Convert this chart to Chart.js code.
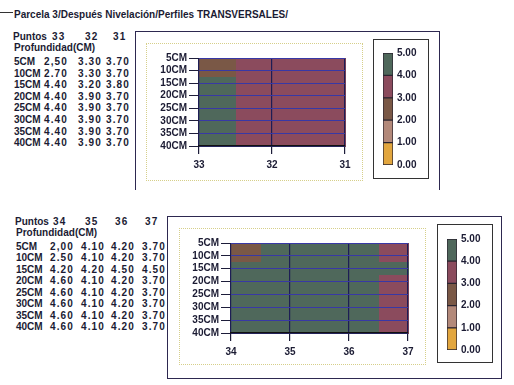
<!DOCTYPE html>
<html>
<head>
<meta charset="utf-8">
<script src="https://cdn.jsdelivr.net/npm/chart.js@4.4.1/dist/chart.umd.min.js"></script>
<style>
  body { margin: 0; width: 514px; height: 385px; position: relative; overflow: hidden; background: #fff;
         font-family: "Liberation Sans", Arial, sans-serif; font-weight: bold; color: #1b1b33; }
  .t { position: absolute; font-size: 10px; line-height: 10px; white-space: nowrap; }
  .n { letter-spacing: 1.1px; }
  .box { position: absolute; box-sizing: border-box; }
  canvas { position: absolute; }
</style>
</head>
<body>
<div class="box" style="left:0;top:12px;width:13px;height:0;border-top:1.5px solid #333"></div>
<div class="t" style="left:14px;top:10px;font-size:10px">Parcela 3/Después Nivelación/Perfiles TRANSVERSALES/</div>

<div class="box" style="left:135px;top:31px;width:305px;height:159px;border:1.5px solid #2d2850;border-bottom:none"></div>
<div class="box" style="left:146px;top:43px;width:217px;height:138px;border:1px dotted #d6cf8a"></div>
<div class="box" style="left:373px;top:39px;width:56px;height:140px;border:1px solid #333"></div>

<div class="box" style="left:167px;top:216px;width:335px;height:163px;border:1.5px solid #2d2850"></div>
<div class="box" style="left:179px;top:228px;width:247px;height:137px;border:1px dotted #d6cf8a"></div>
<div class="box" style="left:437px;top:224px;width:56px;height:139px;border:1px solid #333"></div>

<div id="tables"></div>

<canvas id="heatTop" width="217" height="138" style="left:146px;top:43px"></canvas>
<canvas id="legendTop" width="54" height="138" style="left:374px;top:40px"></canvas>
<canvas id="heatBot" width="247" height="137" style="left:179px;top:228px"></canvas>
<canvas id="legendBot" width="54" height="137" style="left:438px;top:225px"></canvas>

<script>
// depths (rows) and points (columns), values as printed in the tables
const depths = [5, 10, 15, 20, 25, 30, 35, 40];

const topPoints = [33, 32, 31];
const top33 = ['2,50', '2.70', '4.40', '4.40', '4.40', '4.40', '4.40', '4.40'];
const top32 = ['3.30', '3.30', '3.20', '3.90', '3.90', '3.90', '3.90', '3.90'];
const top31 = ['3.70', '3.70', '3.80', '3.70', '3.70', '3.70', '3.70', '3.70'];

const botPoints = [34, 35, 36, 37];
const bot34 = ['2,00', '2.50', '4.20', '4.60', '4.60', '4.60', '4.60', '4.60'];
const bot35 = ['4.10', '4.10', '4.20', '4.10', '4.10', '4.10', '4.10', '4.10'];
const bot36 = ['4.20', '4.20', '4.50', '4.20', '4.20', '4.20', '4.20', '4.20'];
const bot37 = ['3.70', '3.70', '4.50', '3.70', '3.70', '3.70', '3.70', '3.70'];

const bandLimits = [0, 1, 2, 3, 4, 5];
const bandColors = ['#e2a63e', '#b3897a', '#7a5846', '#8b4b5d', '#4f685b'];

const ink = '#1b1b33';
const tickFont = { family: '"Liberation Sans", Arial, sans-serif', size: 10, weight: 'bold' };

const num = s => parseFloat(s.replace(',', '.'));

function bandColor(v) {
  for (let i = 0; i < bandColors.length; i++) {
    if (v < bandLimits[i + 1]) return bandColors[i];
  }
  return bandColors[bandColors.length - 1];
}

// printed tables
function addText(x, y, txt, cls) {
  const d = document.createElement('div');
  d.className = 't ' + (cls || '');
  d.style.left = x + 'px';
  d.style.top = y + 'px';
  d.textContent = txt;
  document.getElementById('tables').appendChild(d);
}

function printTable(points, cols, x0, headY, headXs, rowY, rowStep, valXs) {
  addText(x0, headY, 'Puntos');
  points.forEach((p, i) => addText(headXs[i], headY, String(p), 'n'));
  addText(x0 + 1, headY + 11, 'Profundidad(CM)');
  depths.forEach((d, j) => {
    const y = rowY + j * rowStep;
    addText(x0 + 1, y, d + 'CM');
    cols.forEach((c, i) => addText(valXs[i], y, c[j], 'n'));
  });
}

printTable(topPoints, [top33, top32, top31], 13, 32, [52, 85, 113], 57, 11.6, [44, 78, 106]);
printTable(botPoints, [bot34, bot35, bot36, bot37], 15, 217, [53, 85, 115, 145], 242, 11.45, [50, 81, 111, 142]);

// cells: each reading fills the area up to halfway to its neighbours
const cellPlugin = {
  id: 'cells',
  beforeDraw(chart, args, opts) {
    const { ctx, scales: { x, y } } = chart;
    const pts = chart.data.datasets[0].data;
    const xs = opts.points, ys = depths;
    ctx.save();
    pts.forEach(p => {
      const i = xs.indexOf(p.x), j = ys.indexOf(p.y);
      const x0 = i > 0 ? (xs[i - 1] + xs[i]) / 2 : xs[i];
      const x1 = i < xs.length - 1 ? (xs[i + 1] + xs[i]) / 2 : xs[i];
      const y0 = j > 0 ? (ys[j - 1] + ys[j]) / 2 : ys[j];
      const y1 = j < ys.length - 1 ? (ys[j + 1] + ys[j]) / 2 : ys[j];
      const px0 = Math.round(x.getPixelForValue(x0)), px1 = Math.round(x.getPixelForValue(x1));
      const py0 = Math.round(y.getPixelForValue(y0)), py1 = Math.round(y.getPixelForValue(y1));
      ctx.fillStyle = bandColor(p.v);
      ctx.fillRect(Math.min(px0, px1), Math.min(py0, py1), Math.abs(px1 - px0) + 1, Math.abs(py1 - py0) + 1);
    });
    ctx.restore();
  }
};

function heatmap(id, points, cols, yWidth, xHeight) {
  const values = cols.map(c => c.map(num));
  const data = [];
  points.forEach((p, i) => depths.forEach((d, j) => data.push({ x: p, y: d, v: values[i][j] })));
  new Chart(document.getElementById(id), {
    type: 'scatter',
    data: { datasets: [{ data: data, pointRadius: 0 }] },
    options: {
      responsive: false,
      animation: false,
      events: [],
      layout: { padding: { top: 15, right: 18 } },
      plugins: { legend: { display: false }, tooltip: { enabled: false }, cells: { points: points } },
      scales: {
        x: {
          type: 'linear',
          min: Math.min(...points), max: Math.max(...points),
          reverse: points[0] > points[1],
          afterBuildTicks: s => { s.ticks = points.map(v => ({ value: v })); },
          afterFit: s => { s.height = xHeight; },
          grid: { color: '#1d1d55', lineWidth: 1.2, tickLength: 8, tickColor: '#1d1d3a' },
          border: { color: '#111', width: 1.5 },
          ticks: { font: tickFont, color: ink, padding: 5, autoSkip: false }
        },
        y: {
          type: 'linear',
          min: depths[0], max: depths[depths.length - 1],
          reverse: true,
          afterBuildTicks: s => { s.ticks = depths.map(v => ({ value: v })); },
          afterFit: s => { s.width = yWidth; },
          grid: { color: '#3838a6', lineWidth: 1, tickLength: 10, tickColor: '#1d1d3a' },
          border: { display: false },
          ticks: { font: tickFont, color: ink, padding: 2, autoSkip: false, callback: v => v + 'CM' }
        }
      }
    },
    plugins: [cellPlugin]
  });
}

function colourKey(id, padTop, padBottom) {
  new Chart(document.getElementById(id), {
    type: 'bar',
    data: {
      labels: [''],
      datasets: bandColors.map((c, i) => ({
        data: [bandLimits[i + 1] - bandLimits[i]],
        backgroundColor: c,
        borderColor: '#2a2530',
        borderWidth: 1,
        borderSkipped: false,
        barPercentage: 1,
        categoryPercentage: 1
      }))
    },
    options: {
      responsive: false,
      animation: false,
      events: [],
      layout: { padding: { left: 9, top: padTop, bottom: padBottom } },
      plugins: { legend: { display: false }, tooltip: { enabled: false } },
      scales: {
        x: { stacked: true, display: false },
        y: {
          stacked: true,
          position: 'right',
          min: bandLimits[0], max: bandLimits[bandLimits.length - 1],
          afterBuildTicks: s => { s.ticks = bandLimits.map(v => ({ value: v })); },
          afterFit: s => { s.width = 35; },
          grid: { display: false, drawTicks: false },
          border: { display: false },
          ticks: { font: tickFont, color: ink, padding: 4, autoSkip: false, callback: v => v.toFixed(2) }
        }
      }
    }
  });
}

heatmap('heatTop', topPoints, [top33, top32, top31], 53, 35);
heatmap('heatBot', botPoints, [bot34, bot35, bot36, bot37], 52, 32);
colourKey('legendTop', 13, 13);
colourKey('legendBot', 14, 12);
</script>
</body>
</html>
